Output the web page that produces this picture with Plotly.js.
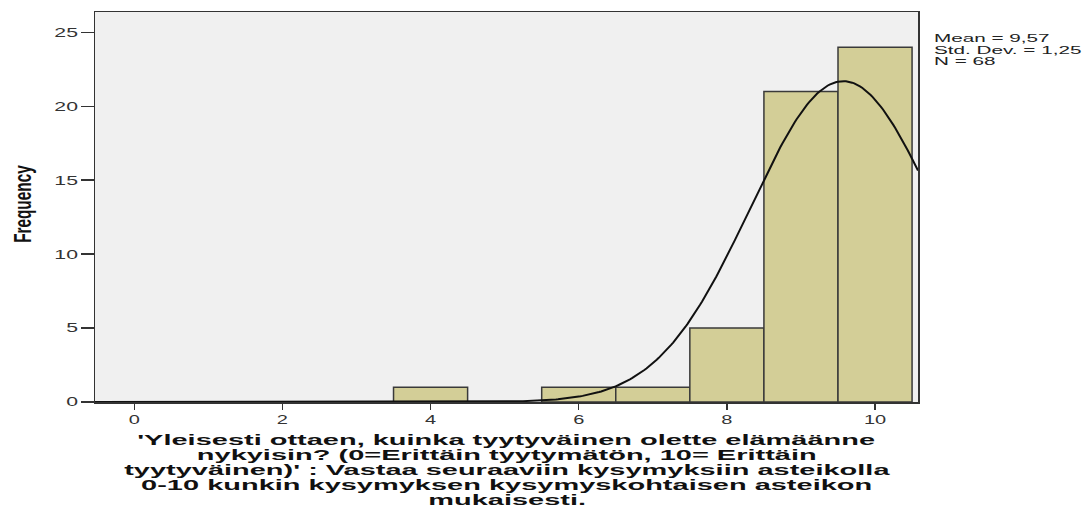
<!DOCTYPE html>
<html><head><meta charset="utf-8">
<script src="https://cdn.plot.ly/plotly-3.0.1.min.js"></script>
<style>html,body{margin:0;padding:0;background:#fff;}#chart{width:1089px;height:508px;}</style>
</head><body><div id="chart"></div>
<script>
// Data
const scoreValues = [0, 1, 2, 3, 4, 5, 6, 7, 8, 9, 10];
const frequencies = [0, 0, 0, 0, 1, 0, 1, 1, 5, 21, 24];
const statMean = 9.57;
const statSD = 1.25;
const statN = 68;
const statLabels = ["Mean = 9,57", "Std. Dev. = 1,25", "N = 68"];
const yTickVals = [0, 5, 10, 15, 20, 25];
const xTickVals = [0, 2, 4, 6, 8, 10];
const xTitleLines = [
  "'Yleisesti ottaen, kuinka tyytyväinen olette elämäänne",
  "nykyisin? (0=Erittäin tyytymätön, 10= Erittäin",
  "tyytyväinen)' : Vastaa seuraaviin kysymyksiin asteikolla",
  "0-10 kunkin kysymyksen kysymyskohtaisen asteikon",
  "mukaisesti."
];
const yTitle = "Frequency";

const xRange = [-0.53, 10.58];
const yRange = [0, 26.38];

const barX = [], barY = [];
scoreValues.forEach((v, i) => { if (frequencies[i] > 0) { barX.push(v); barY.push(frequencies[i]); } });

// fitted normal curve (bin width 1) from the reported statistics
const curveX = [], curveY = [];
for (let i = 0; i <= 400; i++) {
  const x = xRange[0] + (xRange[1] - xRange[0]) * i / 400;
  curveX.push(x);
  curveY.push(statN / (statSD * Math.sqrt(2 * Math.PI)) * Math.exp(-0.5 * Math.pow((x - statMean) / statSD, 2)));
}

const traces = [
  {type: 'bar', x: barX, y: barY, width: 1,
   marker: {color: '#d3ce97', line: {color: '#3a3a3a', width: 1.5}}, hoverinfo: 'skip'},
  {type: 'scatter', mode: 'lines', x: curveX, y: curveY,
   line: {color: '#111', width: 2}, hoverinfo: 'skip'}
];

const FONT = 'Liberation Sans, Arial, sans-serif';
const annotations = [];
const annStretch = [];  // [scaleX, anchor]
statLabels.forEach((t, i) => {
  annotations.push({
    text: t, xref: 'paper', yref: 'paper', x: 1, y: 1, xanchor: 'left', yanchor: 'middle',
    xshift: 14, yshift: -26 - i * 11.5, showarrow: false,
    font: {family: FONT, size: 11.5, color: '#222'}
  });
  annStretch.push([1.8, 'start']);
});
xTitleLines.forEach((t, i) => {
  annotations.push({
    text: '<b>' + t + '</b>', xref: 'paper', yref: 'paper', x: 0.5, y: 0, xanchor: 'center', yanchor: 'middle',
    yshift: -38 - i * 15, showarrow: false,
    font: {family: FONT, size: 14, color: '#111'}
  });
  annStretch.push([2.07, 'middle']);
});
annotations.push({
  text: '<b>' + yTitle + '</b>', xref: 'paper', yref: 'paper', x: 0, y: 0.508, xanchor: 'center', yanchor: 'middle',
  xshift: -72, textangle: -90, showarrow: false,
  font: {family: FONT, size: 24, color: '#111'}
});
annStretch.push([0.64, 'middle']);

const layout = {
  width: 1089, height: 508,
  margin: {l: 95, r: 171, t: 12, b: 106},
  paper_bgcolor: '#ffffff', plot_bgcolor: '#f0f0f0',
  showlegend: false, bargap: 0,
  xaxis: {range: xRange, tickvals: xTickVals, ticktext: xTickVals.map(String),
          ticks: 'outside', ticklen: 6, tickwidth: 1.5, tickcolor: '#333',
          showline: true, linecolor: '#333', linewidth: 1.5, mirror: true,
          showgrid: false, zeroline: false,
          tickfont: {family: FONT, size: 12.5, color: '#333'}},
  yaxis: {range: yRange, tickvals: yTickVals, ticktext: yTickVals.map(String),
          ticks: 'outside', ticklen: 13, tickwidth: 1.5, tickcolor: '#333',
          showline: true, linecolor: '#333', linewidth: 1.5, mirror: true,
          showgrid: false, zeroline: false,
          tickfont: {family: FONT, size: 12.5, color: '#333'}},
  annotations: annotations
};

function stretchText(el, sx, anchor) {
  const bb = el.getBBox();
  const ax = anchor === 'end' ? bb.x + bb.width : anchor === 'start' ? bb.x : bb.x + bb.width / 2;
  const prev = el.getAttribute('transform') || '';
  el.setAttribute('transform', prev + ' translate(' + ax + ',0) scale(' + sx + ',1) translate(' + (-ax) + ',0)');
}

Plotly.newPlot('chart', traces, layout, {staticPlot: true, displayModeBar: false}).then(gd => {
  gd.querySelectorAll('g.ytick text').forEach(el => stretchText(el, 1.7, 'end'));
  gd.querySelectorAll('g.xtick text').forEach(el => stretchText(el, 1.6, 'middle'));
  gd.querySelectorAll('g.annotation').forEach(g => {
    const idx = +g.getAttribute('data-index');
    const s = annStretch[idx];
    const t = g.querySelector('text');
    if (s && t) stretchText(t, s[0], s[1]);
  });
});
</script></body></html>
